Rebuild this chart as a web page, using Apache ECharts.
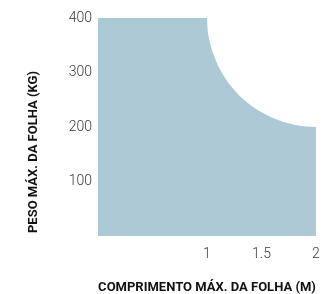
<!DOCTYPE html>
<html>
<head>
<meta charset="utf-8">
<script src="https://cdn.jsdelivr.net/npm/echarts@6/dist/echarts.min.js"></script>
<style>
  html, body { margin: 0; padding: 0; background: #fff; }
  #chart { width: 322px; height: 294px; }
</style>
</head>
<body>
<div id="chart"></div>
<script>
// comprimento (m) e peso (kg)
var comprimento = [0, 1, 1.005, 1.01, 1.02, 1.05, 1.1, 1.15, 1.2, 1.25, 1.3, 1.35, 1.4, 1.45, 1.5, 1.6, 1.7, 1.8, 1.9, 2];
var peso = [400, 400, 380, 372, 360, 338, 313, 295, 280, 268, 257, 248, 240, 233, 227, 217, 209, 204, 201, 200];
var xLabels = [1, 1.5, 2];
var yLabels = [100, 200, 300, 400];

var chart = echarts.init(document.getElementById('chart'), null, { renderer: 'canvas' });

var pontos = comprimento.map(function (c, i) { return [c, peso[i]]; });

var nameStyle = {
  fontFamily: 'Roboto',
  fontWeight: 'bold',
  fontSize: 13,
  color: '#111'
};

var labelStyle = {
  fontFamily: 'Roboto',
  fontWeight: 300,
  fontSize: 14,
  color: '#3a3a3a'
};

var option = {
  animation: false,
  grid: { left: 98, right: 6, top: 18, bottom: 58, outerBoundsMode: 'none' },
  xAxis: {
    type: 'value',
    min: 0,
    max: 2,
    name: 'COMPRIMENTO MÁX. DA FOLHA (M)',
    nameLocation: 'middle',
    nameGap: 45,
    nameTextStyle: nameStyle,
    axisLine: { show: false },
    axisTick: { show: false },
    splitLine: { show: false },
    axisLabel: Object.assign({ customValues: xLabels, margin: 11 }, labelStyle)
  },
  yAxis: {
    type: 'value',
    min: 0,
    max: 400,
    interval: 100,
    name: 'PESO MÁX. DA FOLHA (KG)',
    nameLocation: 'middle',
    nameGap: 58,
    nameTextStyle: Object.assign({ padding: [0, 50, 0, 0] }, nameStyle),
    axisLine: { show: false },
    axisTick: { show: false },
    splitLine: { show: false },
    axisLabel: Object.assign({ customValues: yLabels, margin: 6 }, labelStyle)
  },
  series: [{
    type: 'line',
    data: pontos,
    symbol: 'none',
    smooth: false,
    lineStyle: { width: 0 },
    areaStyle: { color: '#aec9d6', opacity: 1 }
  }]
};
chart.setOption(option);
</script>
</body>
</html>
